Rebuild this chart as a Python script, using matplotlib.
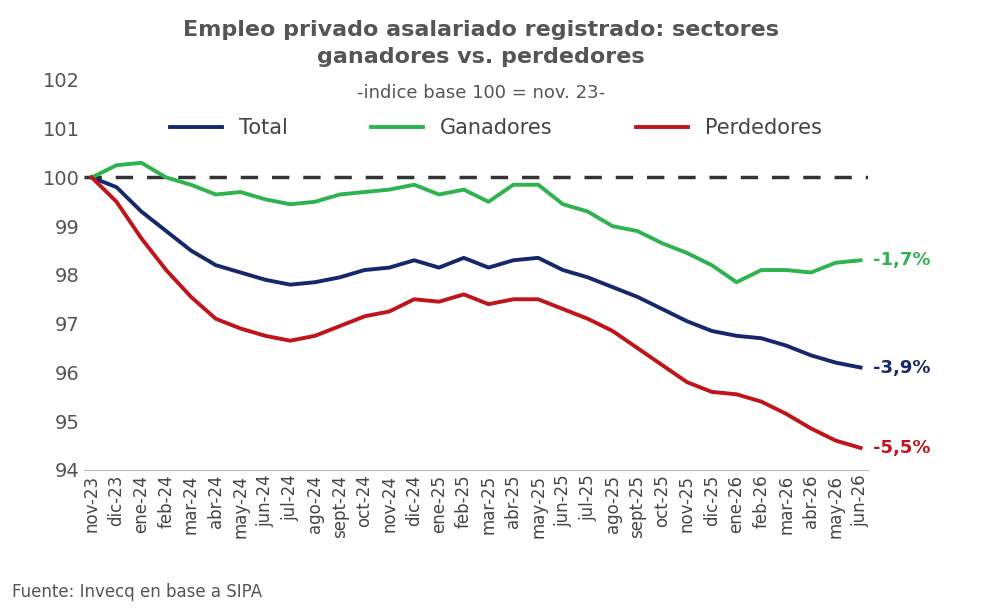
import matplotlib
matplotlib.use("Agg")
import matplotlib.pyplot as plt
import numpy as np

months = ["nov-23","dic-23","ene-24","feb-24","mar-24","abr-24","may-24","jun-24","jul-24","ago-24","sept-24","oct-24","nov-24","dic-24","ene-25","feb-25","mar-25","abr-25","may-25","jun-25","jul-25","ago-25","sept-25","oct-25","nov-25","dic-25","ene-26","feb-26","mar-26","abr-26","may-26","jun-26"]
total = [100,99.8,99.3,98.9,98.5,98.2,98.05,97.9,97.8,97.85,97.95,98.1,98.15,98.3,98.15,98.35,98.15,98.3,98.35,98.1,97.95,97.75,97.55,97.3,97.05,96.85,96.75,96.7,96.55,96.35,96.2,96.1]
ganadores = [100,100.25,100.3,100.0,99.85,99.65,99.7,99.55,99.45,99.5,99.65,99.7,99.75,99.85,99.65,99.75,99.5,99.85,99.85,99.45,99.3,99.0,98.9,98.65,98.45,98.2,97.85,98.1,98.1,98.05,98.25,98.3]
perdedores = [100,99.5,98.75,98.1,97.55,97.1,96.9,96.75,96.65,96.75,96.95,97.15,97.25,97.5,97.45,97.6,97.4,97.5,97.5,97.3,97.1,96.85,96.5,96.15,95.8,95.6,95.55,95.4,95.15,94.85,94.6,94.45]
end_labels = ["-3,9%", "-1,7%", "-5,5%"]

fig = plt.figure(figsize=(9.92, 6.15), dpi=100)
ax = fig.add_axes([0.085, 0.236, 0.79, 0.634])
x = np.arange(len(months))
cols = ["#14286b", "#2fb34f", "#c0141b"]
series = [total, ganadores, perdedores]
names = ["Total", "Ganadores", "Perdedores"]
ax.axhline(100, color="#333333", ls=(0, (5, 4)), lw=2.5, zorder=1)
for s, c, n, lab in zip(series, cols, names, end_labels):
    ax.plot(x, s, color=c, lw=2.8, label=n, zorder=2)
    ax.text(x[-1] + 0.5, s[-1], lab, color=c, fontsize=13, fontweight="bold", va="center")
ax.set_xlim(-0.3, len(months) - 0.7)
ax.set_ylim(94, 102)
ax.set_yticks(range(94, 103))
ax.set_xticks(x)
ax.set_xticklabels(months, rotation=90, fontsize=12, color="#444444")
ax.tick_params(axis="y", labelsize=14, colors="#555555", length=0)
ax.tick_params(axis="x", length=0)
for sp in ["top", "right", "left"]:
    ax.spines[sp].set_visible(False)
ax.spines["bottom"].set_color("#bbbbbb")
ax.legend(loc="center", bbox_to_anchor=(0.5, 0.792), bbox_transform=fig.transFigure, ncol=3, frameon=False,
          fontsize=15, handlelength=2.5, columnspacing=4, labelcolor="#444444")
fig.text(0.485, 0.968, "Empleo privado asalariado registrado: sectores\nganadores vs. perdedores",
         ha="center", va="top", fontsize=16, fontweight="bold", color="#555555", linespacing=1.45)
fig.text(0.485, 0.849, "-indice base 100 = nov. 23-", ha="center", va="center", fontsize=13, color="#555555")
fig.text(0.012, 0.03, "Fuente: Invecq en base a SIPA", fontsize=12, color="#555555")
fig.savefig("out.png", dpi=100)
